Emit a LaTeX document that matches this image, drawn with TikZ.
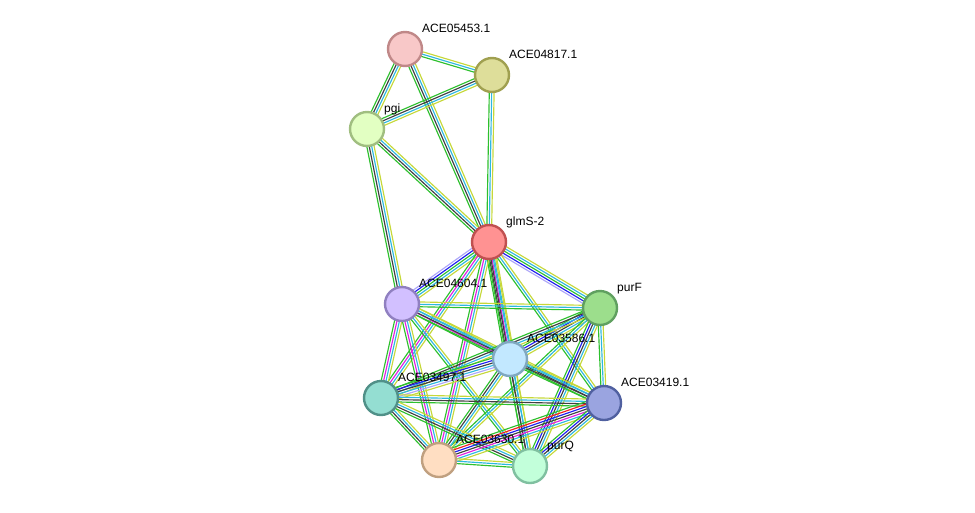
\documentclass[tikz,border=0pt]{standalone}
\usepackage{fontspec}
\setmainfont{Liberation Sans}
\usetikzlibrary{calc,backgrounds}

\definecolor{tmC}{HTML}{C6D83A}
\definecolor{dbC}{HTML}{2EB8E0}
\definecolor{nbC}{HTML}{2EC02E}
\definecolor{cxC}{HTML}{404040}
\definecolor{exC}{HTML}{E020E0}
\definecolor{coC}{HTML}{1E1EF0}
\definecolor{fuC}{HTML}{F02020}
\definecolor{hoC}{HTML}{ADA6F8}

\tikzset{
    prot/.style={draw, circle, inner sep=0pt, minimum size=34pt, line width=2.4pt},
    lab/.style={anchor=base west, inner sep=0pt, font=\fontsize{12}{14}\selectfont},
}

% one bundle of parallel lines, one line per evidence colour
\newcommand\stredge[3]{%
    \foreach \col [count=\i] in {#3} {\xdef\nlines{\i}}%
    \foreach \col [count=\i] in {#3} {%
        \pgfmathsetmacro\off{(\i-(\nlines+1)/2)*2.4}%
        \draw[color=\col, line width=1.15pt] ($(#1)!\off pt!90:(#2)$) -- ($(#2)!\off pt!-90:(#1)$);
    }%
}

\begin{document}
\begin{tikzpicture}[x=1pt, y=-1pt]
    \useasboundingbox (0,0) rectangle (975,512);
    \node[prot, fill={rgb,255:red,248;green,200;blue,200}, draw={rgb,255:red,192;green,136;blue,136}] (a05453) at (405,49) {};
    \node[prot, fill={rgb,255:red,222;green,222;blue,154}, draw={rgb,255:red,160;green,160;blue,80}] (a04817) at (492,75) {};
    \node[prot, fill={rgb,255:red,226;green,255;blue,194}, draw={rgb,255:red,160;green,190;blue,128}] (pgi) at (367,129) {};
    \node[prot, fill={rgb,255:red,255;green,146;blue,146}, draw={rgb,255:red,192;green,80;blue,80}] (glmS) at (489,242) {};
    \node[prot, fill={rgb,255:red,210;green,192;blue,255}, draw={rgb,255:red,144;green,128;blue,192}] (a04604) at (402,304) {};
    \node[prot, fill={rgb,255:red,156;green,222;blue,140}, draw={rgb,255:red,96;green,160;blue,96}] (purF) at (600,308) {};
    \node[prot, fill={rgb,255:red,194;green,232;blue,255}, draw={rgb,255:red,128;green,168;blue,192}] (a03586) at (510,359) {};
    \node[prot, fill={rgb,255:red,148;green,222;blue,210}, draw={rgb,255:red,80;green,144;blue,136}] (a03497) at (381,398) {};
    \node[prot, fill={rgb,255:red,154;green,164;blue,224}, draw={rgb,255:red,80;green,96;blue,160}] (a03419) at (604,403) {};
    \node[prot, fill={rgb,255:red,255;green,222;blue,194}, draw={rgb,255:red,192;green,160;blue,128}] (a03630) at (439,460) {};
    \node[prot, fill={rgb,255:red,194;green,255;blue,218}, draw={rgb,255:red,128;green,192;blue,160}] (purQ) at (530,466) {};

    \node[lab] (l-a05453) at ([shift={(17,-17)}]a05453.center) {ACE05453.1};
    \node[lab] (l-a04817) at ([shift={(17,-17)}]a04817.center) {ACE04817.1};
    \node[lab] (l-pgi) at ([shift={(17,-17)}]pgi.center) {pgi};
    \node[lab] (l-glmS) at ([shift={(17,-17)}]glmS.center) {glmS-2};
    \node[lab] (l-a04604) at ([shift={(17,-17)}]a04604.center) {ACE04604.1};
    \node[lab] (l-purF) at ([shift={(17,-17)}]purF.center) {purF};
    \node[lab] (l-a03586) at ([shift={(17,-17)}]a03586.center) {ACE03586.1};
    \node[lab] (l-a03497) at ([shift={(17,-17)}]a03497.center) {ACE03497.1};
    \node[lab] (l-a03419) at ([shift={(17,-17)}]a03419.center) {ACE03419.1};
    \node[lab] (l-a03630) at ([shift={(17,-17)}]a03630.center) {ACE03630.1};
    \node[lab] (l-purQ) at ([shift={(17,-17)}]purQ.center) {purQ};

    \begin{scope}[on background layer]
        % upper part
        \stredge{a05453}{a04817}{nbC,dbC,tmC}
        \stredge{a05453}{pgi}{nbC,cxC,dbC,tmC}
        \stredge{a05453}{glmS}{nbC,cxC,dbC,tmC}
        \stredge{a04817}{pgi}{nbC,cxC,dbC,tmC}
        \stredge{a04817}{glmS}{nbC,dbC,tmC}
        \stredge{pgi}{glmS}{nbC,cxC,dbC,tmC}
        \stredge{pgi}{a04604}{nbC,cxC,dbC,tmC}
        % glmS-2
        \stredge{glmS}{a04604}{hoC,coC,nbC,dbC,tmC}
        \stredge{glmS}{purF}{hoC,coC,nbC,dbC,tmC}
        \stredge{glmS}{a03586}{nbC,cxC,exC,dbC,tmC}
        \stredge{glmS}{purQ}{nbC,cxC,dbC,tmC}
        \stredge{glmS}{a03497}{nbC,exC,dbC,tmC}
        \stredge{glmS}{a03630}{nbC,exC,dbC,tmC}
        \stredge{glmS}{a03419}{nbC,dbC,tmC}
        % ACE04604.1
        \stredge{a04604}{purF}{nbC,dbC,tmC}
        \stredge{a04604}{a03586}{nbC,exC,dbC,tmC}
        \stredge{a04604}{a03497}{nbC,exC,dbC,tmC}
        \stredge{a04604}{a03630}{nbC,exC,dbC,tmC}
        \stredge{a04604}{purQ}{nbC,dbC,tmC}
        \stredge{a04604}{a03419}{nbC,cxC,dbC,tmC}
        % purF
        \stredge{purF}{a03586}{nbC,coC,cxC,dbC,tmC}
        \stredge{purF}{a03497}{nbC,cxC,dbC,tmC}
        \stredge{purF}{a03419}{nbC,dbC,tmC}
        \stredge{purF}{a03630}{nbC,dbC,tmC}
        \stredge{purF}{purQ}{nbC,coC,cxC,dbC,tmC}
        % ACE03586.1
        \stredge{a03586}{a03497}{nbC,coC,cxC,dbC,hoC,tmC}
        \stredge{a03586}{a03419}{nbC,cxC,dbC,tmC}
        \stredge{a03586}{a03630}{nbC,cxC,dbC,tmC}
        \stredge{a03586}{purQ}{nbC,cxC,dbC,tmC}
        % ACE03497.1
        \stredge{a03497}{a03419}{nbC,cxC,dbC,tmC}
        \stredge{a03497}{a03630}{nbC,cxC,dbC,tmC}
        \stredge{a03497}{purQ}{nbC,cxC,dbC,tmC}
        % ACE03419.1
        \stredge{a03419}{a03630}{nbC,fuC,coC,cxC,exC,dbC,tmC}
        \stredge{a03419}{purQ}{nbC,coC,cxC,dbC,tmC}
        \stredge{a03630}{purQ}{nbC,dbC,tmC}
    \end{scope}
\end{tikzpicture}
\end{document}
